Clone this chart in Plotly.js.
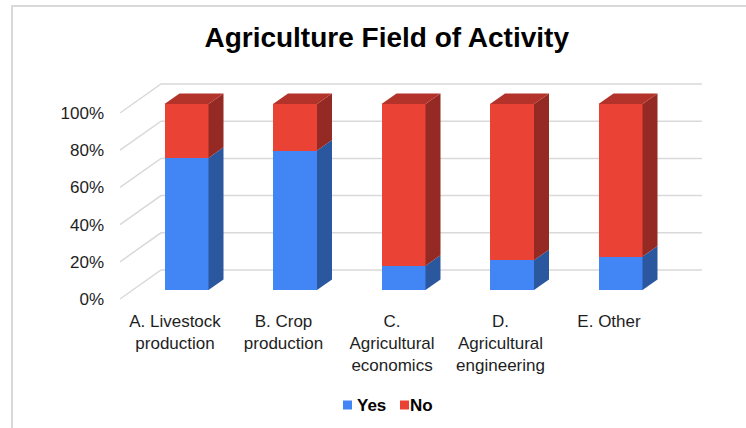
<!DOCTYPE html>
<html><head><meta charset="utf-8">
<script src="https://cdn.plot.ly/plotly-3.0.1.min.js"></script>
<style>html,body{margin:0;padding:0;background:#fff}#chart{width:746px;height:428px}</style>
</head><body><div id="chart"></div>
<script>
// ---- data ----
const categories = ["A. Livestock<br>production", "B. Crop<br>production", "C.<br>Agricultural<br>economics", "D.<br>Agricultural<br>engineering", "E. Other"];
const yesValues = [71, 75, 13, 16, 18];
const noValues = [29, 25, 87, 84, 82];
const yTicks = [0, 20, 40, 60, 80, 100];
const seriesNames = ["Yes", "No"];

// ---- geometry (pixels) ----
const W = 746, H = 428;
const M = {l: 112, r: 30, t: 70, b: 128};
const X0 = 186.5, PXC = 108.5;   // px of first category centre, px per category
const Y0 = 290, PYP = 1.86;      // px of 0% on bar front, px per percent
const Y0front = 299;             // px of 0% on chart front plane (tick labels)
const toX = px => (px - X0) / PXC;
const toY = py => (Y0 - py) / PYP;
const barW = 44 / PXC;
const depth = {x: 41 / PXC, y: 29 / PYP};
const f0 = 0.31, f1 = 0.31 + 15 / 41;
function proj(x, y, d) { return [x + (d - f0) * depth.x, y + (d - f0) * depth.y]; }

const colors = {
  yes: {front: '#4285f4', side: '#2b579f'},
  no: {front: '#ea4335', side: '#942a23', top: '#b3332a'}
};

const traces = [];
const xs = categories.map((_, i) => i);
traces.push({type: 'bar', x: xs, y: yesValues, width: barW, name: seriesNames[0],
  marker: {color: colors.yes.front, line: {width: 0}}, hoverinfo: 'skip'});
traces.push({type: 'bar', x: xs, y: noValues, width: barW, name: seriesNames[1],
  marker: {color: colors.no.front, line: {width: 0}}, hoverinfo: 'skip'});

function poly(pts, color) {
  traces.push({type: 'scatter', mode: 'lines', fill: 'toself', fillcolor: color,
    line: {width: 0, color: color}, x: pts.map(p => p[0]), y: pts.map(p => p[1]),
    showlegend: false, hoverinfo: 'skip'});
}
xs.forEach((xi, i) => {
  const xr = xi + barW / 2, xl = xi - barW / 2;
  const segs = [[0, yesValues[i], colors.yes.side], [yesValues[i], yesValues[i] + noValues[i], colors.no.side]];
  segs.forEach(([b, t, c]) => {
    poly([proj(xr, b, f0), proj(xr, t, f0), proj(xr, t, f1), proj(xr, b, f1)], c);
  });
  const top = yesValues[i] + noValues[i];
  poly([proj(xl, top, f0), proj(xr, top, f0), proj(xr, top, f1), proj(xl, top, f1)], colors.no.top);
});

// gridlines on walls
const xL = toX(120) + f0 * depth.x;
const xR = toX(702) - (1 - f0) * depth.x;
const shapes = yTicks.map(v => {
  const a = proj(xL, v, 0), b = proj(xL, v, 1), c = proj(xR, v, 1);
  return {type: 'path', xref: 'x', yref: 'y', layer: 'below',
    path: `M${a[0]},${a[1]} L${b[0]},${b[1]} L${c[0]},${c[1]}`,
    line: {color: '#d9d9d9', width: 1.5}};
});
const plotW = W - M.l - M.r, plotH = H - M.t - M.b;
const px2paperX = px => (px - M.l) / plotW;
const px2paperY = py => (H - M.b - py) / plotH;
shapes.push({type: 'rect', xref: 'paper', yref: 'paper', layer: 'below',
  x0: px2paperX(12), x1: px2paperX(800), y0: px2paperY(500), y1: px2paperY(6),
  line: {color: '#d9d9d9', width: 2}, fillcolor: 'rgba(0,0,0,0)'});

// custom legend (compact, like the reference)
const legendItems = [
  {name: seriesNames[0], color: colors.yes.front, sq: 343, tx: 356},
  {name: seriesNames[1], color: colors.no.front, sq: 400, tx: 409}
];
const legendY = 405;
const font = 'Liberation Sans, Arial, sans-serif';
const annotations = [];
legendItems.forEach(it => {
  shapes.push({type: 'rect', xref: 'paper', yref: 'paper', layer: 'above',
    x0: px2paperX(it.sq), x1: px2paperX(it.sq + 9), y0: px2paperY(legendY + 4.5), y1: px2paperY(legendY - 4.5),
    line: {width: 0}, fillcolor: it.color});
  annotations.push({xref: 'paper', yref: 'paper', x: px2paperX(it.tx), y: px2paperY(legendY),
    xanchor: 'left', yanchor: 'middle', showarrow: false, text: '<b>' + it.name + '</b>',
    font: {family: font, size: 17, color: '#000'}, borderpad: 0});
});

const layout = {
  width: W, height: H, margin: M,
  paper_bgcolor: '#fff', plot_bgcolor: 'rgba(0,0,0,0)',
  barmode: 'stack', bargap: 0,
  font: {family: font, color: '#222', size: 17},
  title: {text: 'Agriculture Field of Activity', font: {family: font, size: 28, weight: 'bold', color: '#000'},
    x: 386.7 / W, xanchor: 'center', xref: 'container', y: 1 - 37.5 / H, yanchor: 'middle', yref: 'container'},
  xaxis: {range: [toX(M.l), toX(W - M.r)], tickvals: xs.map(i => i - 11.5 / PXC), ticktext: categories,
    showgrid: false, zeroline: false, showline: false, ticks: '', ticklabelstandoff: 9,
    tickfont: {size: 17, color: '#1e1e1e'}, fixedrange: true},
  yaxis: {range: [toY(H - M.b), toY(M.t)], showgrid: false, zeroline: false, showticklabels: false, fixedrange: true},
  yaxis2: {overlaying: 'y', side: 'left', range: [(Y0front - (H - M.b)) / PYP, (Y0front - M.t) / PYP],
    tickvals: yTicks, ticktext: yTicks.map(v => v + '%'), showgrid: false, zeroline: false, ticks: '',
    ticklabelstandoff: 7, tickfont: {size: 17, color: '#1e1e1e'}, fixedrange: true},
  showlegend: false,
  shapes: shapes,
  annotations: annotations
};
traces.push({type: 'scatter', x: [], y: [], yaxis: 'y2', showlegend: false, hoverinfo: 'skip'});
Plotly.newPlot('chart', traces, layout, {displayModeBar: false, staticPlot: true});
</script></body></html>
